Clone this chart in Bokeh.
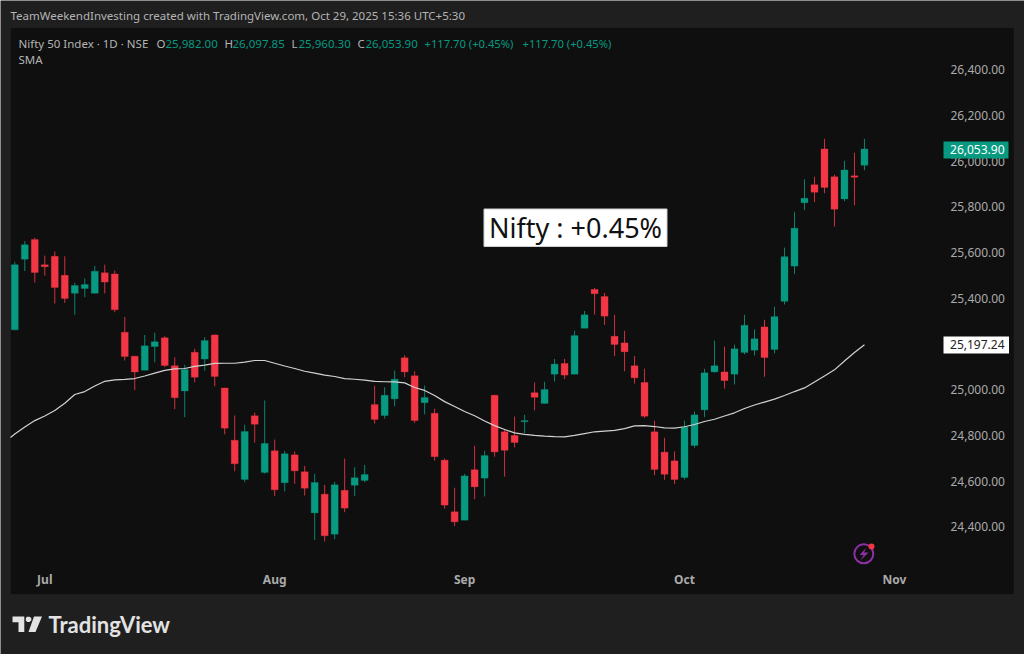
from bokeh.embed import file_html
from bokeh.resources import INLINE
from bokeh.plotting import figure
from bokeh.models import (ColumnDataSource, Range1d, LinearAxis, FixedTicker, NumeralTickFormatter,
                          Label, BoxAnnotation, PolyAnnotation)

# ---- data ----
opens = [25262,25571,25657,25547,25584,25501,25422,25443,25422,25512,25507,25252,25147,25085,25189,25227,25105,24995,25164,25134,
         25240,25008,24779,24607,24886,24638,24733,24593,24715,24641,24461,24543,24368,24560,24582,24603,24935,24887,24960,25140,
         25061,24943,24897,24692,24466,24429,24650,24613,24976,24816,24800,24860,24987,24940,25068,25115,25068,25269,25439,25408,
         25234,25205,25105,25032,24816,24727,24689,24616,24756,24912,25078,25078,25068,25163,25173,25275,25176,25387,25541,25818,
         25897,26054,25932,25835,25936,25982.00]
highs = [25560,25650,25665,25587,25605,25584,25468,25487,25542,25547,25522,25319,25148,25240,25250,25234,25141,25109,25179,25230,
         25242,25008,24887,24847,24900,24953,24782,24733,24730,24667,24632,24584,24597,24699,24661,24671,25017,25011,25084,25151,
         25081,25018,24917,24699,24571,24632,24755,24733,24978,24829,24883,24890,25032,25035,25135,25135,25258,25345,25446,25424,
         25328,25258,25147,25092,24865,24790,24730,24865,24905,25092,25215,25189,25197,25328,25264,25306,25363,25622,25779,25921,
         25932,26098,25941,26002,26037,26097.85]
lows = [25260,25519,25469,25499,25377,25380,25328,25405,25422,25421,25339,25128,24998,25085,25120,25099,24915,24880,25033,25083,
        25015,24805,24643,24595,24769,24633,24534,24555,24588,24537,24342,24336,24346,24464,24534,24595,24852,24874,24928,25055,
        24855,24892,24690,24480,24403,24429,24521,24533,24707,24620,24747,24810,24910,24940,25036,25046,25068,25269,25329,25284,
        25147,25081,25027,24877,24626,24606,24587,24607,24746,24880,25075,25005,25023,25155,25150,25057,25159,25373,25506,25786,
        25821,25860,25714,25825,25807,25960.30]
closes = [25547,25634,25513,25538,25447,25399,25456,25460,25519,25471,25350,25145,25078,25192,25210,25106,24965,25089,25055,25215,
          25058,24832,24676,24817,24849,24765,24562,24720,24645,24569,24594,24361,24584,24482,24615,24629,24870,24976,25046,25078,
          24865,24966,24707,24495,24422,24623,24575,24712,24728,24735,24769,24865,24967,25001,25112,25064,25237,25328,25420,25322,
          25198,25166,25052,24884,24651,24630,24607,24836,24890,25074,25105,25040,25179,25282,25223,25141,25320,25582,25707,25838,
          25864,25885,25790,25962,25930,26053.90]
sma = [24806,24837,24865,24885,24909,24941,24979,24992,25016,25037,25043,25045,25049,25060,25073,25085,25091,25093,25102,25108,
       25115,25116,25116,25121,25128,25128,25116,25104,25093,25081,25073,25064,25058,25049,25046,25042,25037,25035,25034,25030,
       25010,24997,24975,24948,24927,24905,24886,24863,24843,24826,24811,24805,24800,24797,24795,24794,24800,24808,24816,24819,
       24822,24830,24842,24843,24839,24833,24832,24838,24848,24861,24871,24885,24899,24918,24933,24946,24959,24975,24992,25008,
       25034,25060,25087,25126,25163,25197.24]
sma_at_pane_edge = 24791
price_ticks = [24400,24600,24800,25000,25200,25400,25600,25800,26000,26200,26400]
month_ticks = [3,26,45,67,88]
month_names = ["Jul","Aug","Sep","Oct","Nov"]
last_close_text = "26,053.90"
last_sma_text = "25,197.24"

# ---- colours ----
OUTER = "#1f1f1f"; PANE = "#0f0f0f"
GREEN = "#089981"; RED = "#f23645"
TXT = "#b4b4b4"; AX = "#aaaaaa"; VAL = "#089981"
FONT = "Noto Sans"

# picture pixel <-> data mapping
def X(px): return (px - 14.3) / 9.996
def Y(py): return 26703.3 - 4.376 * py

p = figure(width=1024, height=654, output_backend="svg", toolbar_location=None,
           x_range=Range1d(X(0), X(1024)), y_range=Range1d(Y(654), Y(0)),
           x_axis_type=None, y_axis_type=None,
           min_border_left=0, min_border_right=0, min_border_top=0, min_border_bottom=0,
           background_fill_color=OUTER, border_fill_color=OUTER, outline_line_color=None)
p.grid.visible = False

p.add_layout(BoxAnnotation(left=X(10), right=X(1013.5), top=Y(27), bottom=Y(594), fill_color=PANE, fill_alpha=1,
                           line_color="#2b2b2b", line_width=1, level="underlay"))

idx = list(range(len(closes)))
colors = [GREEN if c >= o else RED for o, c in zip(opens, closes)]
src = ColumnDataSource(dict(x=idx, o=opens, h=highs, l=lows, c=closes, color=colors,
                            top=[max(a, b) for a, b in zip(opens, closes)],
                            bottom=[min(a, b) for a, b in zip(opens, closes)]))
p.segment("x", "h", "x", "l", source=src, color="color", line_width=1, line_alpha=0.85)
p.vbar("x", width=0.7, top="top", bottom="bottom", source=src, fill_color="color", line_color="color", line_width=0.3)
p.line([X(10)] + idx, [sma_at_pane_edge] + sma, line_color="#d2d2d2", line_width=1.2)

# axes drawn inside the pane
ya = LinearAxis(ticker=FixedTicker(ticks=price_ticks), formatter=NumeralTickFormatter(format="0,0.00"),
                fixed_location=X(944), major_label_standoff=0, major_tick_line_color=None,
                minor_tick_line_color=None, axis_line_color=None,
                major_label_text_color=AX, major_label_text_font=FONT, major_label_text_font_size="12px")
p.add_layout(ya, "right")
xa = LinearAxis(ticker=FixedTicker(ticks=month_ticks),
                major_label_overrides={t: n for t, n in zip(month_ticks, month_names)},
                fixed_location=Y(564), major_label_standoff=0, major_tick_line_color=None,
                minor_tick_line_color=None, axis_line_color=None,
                major_label_text_color=AX, major_label_text_font=FONT, major_label_text_font_size="12px",
                major_label_text_font_style="bold")
p.add_layout(xa, "below")

def label(t, px, py, color=TXT, size=11.5, align="left", style="normal", font=FONT):
    p.add_layout(Label(x=X(px), y=Y(py), text=t, text_color=color, text_font_size=f"{size}px",
                       text_align=align, text_baseline="middle", text_font=font, text_font_style=style))

def box(l, r, t, b, fill, line=None):
    p.add_layout(BoxAnnotation(left=X(l), right=X(r), top=Y(t), bottom=Y(b), fill_color=fill, fill_alpha=1,
                               line_color=line, line_alpha=1 if line else 0))

# header
label("TeamWeekendInvesting created with TradingView.com, Oct 29, 2025 15:36 UTC+5:30", 10, 15, size=11.5)
label("Nifty 50 Index · 1D · NSE", 18, 43)
label("O", 156, 43); label("25,982.00", 165, 43, VAL)
label("H", 224, 43); label("26,097.85", 232, 43, VAL)
label("L", 291, 43); label("25,960.30", 298, 43, VAL)
label("C", 357, 43); label("26,053.90", 365, 43, VAL)
label("+117.70 (+0.45%)", 424, 43, VAL, 11.2)
label("+117.70 (+0.45%)", 522, 43, VAL, 11.2)
label("SMA", 18, 59)

# annotation box
box(483.5, 666.5, 208.5, 246, "#ffffff", "#d0d0d0")
label("Nifty : +0.45%", 575, 227, "#111111", 27, "center")

# price tags
box(943, 1008, 141, 158, GREEN)
label(last_close_text, 1004, 149, "#ffffff", 12, "right")
box(943, 1008.5, 336, 353, "#ffffff")
label(last_sma_text, 1004, 344, "#222222", 12, "right")

# lightning badge
p.scatter([X(863.3)], [Y(553.3)], size=19, marker="circle", fill_color=None, line_color="#8e2fa5", line_width=2)
p.patch([X(v) for v in (866, 859, 863, 860, 868, 863.5)], [Y(v) for v in (547, 554.5, 554.5, 560, 552, 552)],
        fill_color="#8e2fa5", line_color=None)
p.scatter([X(871)], [Y(546)], size=6, marker="circle", fill_color=RED, line_color=None)

# TradingView wordmark
LOGO = "#e3e3e3"
for xs, ys in [((12, 23.8, 23.8, 18, 18, 12), (616, 616, 631.5, 631.5, 621.7, 621.7)),
               ((33.5, 41.5, 35, 28), (616, 616, 631.5, 631.5)),
               ((25.3, 26.6, 29, 30.8, 30.8, 29, 26.6, 25.3), (617.5, 616.2, 616.2, 617.5, 620, 621.6, 621.6, 620))]:
    p.add_layout(PolyAnnotation(xs=[X(v) for v in xs], ys=[Y(v) for v in ys], fill_color=LOGO, fill_alpha=1,
                                line_color=None))
label("TradingView", 48, 624, LOGO, 22, style="bold", font="Lato")

open("out.html", "w").write(file_html(p, INLINE))
